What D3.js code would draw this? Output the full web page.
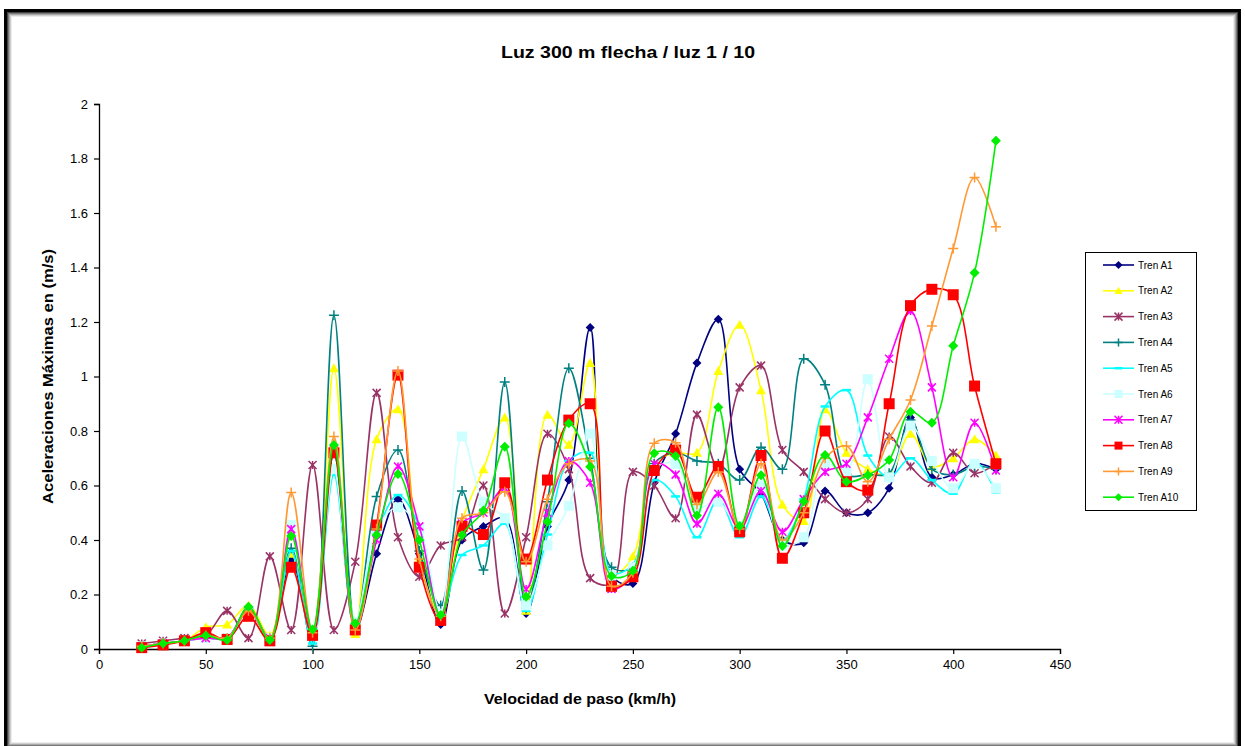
<!DOCTYPE html>
<html>
<head>
<meta charset="utf-8">
<script src="https://cdn.jsdelivr.net/npm/d3@7/dist/d3.min.js"></script>
<style>
  html, body { margin: 0; padding: 0; background: #ffffff; }
  svg { display: block; font-family: "Liberation Sans", Arial, sans-serif; }
</style>
</head>
<body>
<svg id="chart" width="1245" height="746"></svg>
<script>
// Velocidad de paso (km/h)
const speeds = [20,30,40,50,60,70,80,90,100,110,120,130,140,150,160,170,180,190,200,210,
                220,230,240,250,260,270,280,290,300,310,320,330,340,350,360,370,380,390,400,410,420];

// Aceleraciones máximas por tren
const trenA1  = [0.01,0.02,0.03,0.05,0.04,0.14,0.04,0.33,0.05,0.72,0.07,0.35,0.55,0.35,0.09,0.40,0.45,0.48,0.13,0.45,
                 0.62,1.18,0.27,0.24,0.61,0.79,1.05,1.21,0.66,0.57,0.40,0.39,0.58,0.50,0.50,0.59,0.85,0.63,0.64,0.68,0.66];
const trenA2  = [0.01,0.02,0.03,0.08,0.09,0.16,0.05,0.35,0.06,1.03,0.055,0.77,0.88,0.33,0.12,0.47,0.66,0.85,0.14,0.86,
                 0.75,1.05,0.27,0.34,0.68,0.72,0.72,1.02,1.19,0.95,0.53,0.47,0.88,0.72,0.66,0.64,0.79,0.67,0.70,0.77,0.71];
const trenA3  = [0.02,0.03,0.04,0.05,0.14,0.04,0.34,0.07,0.675,0.07,0.32,0.94,0.41,0.265,0.38,0.41,0.60,0.13,0.41,0.79,
                 0.66,0.26,0.24,0.65,0.60,0.48,0.86,0.66,0.96,1.04,0.73,0.65,0.55,0.50,0.55,0.78,0.67,0.61,0.72,0.645,0.68];
const trenA4  = [0.01,0.02,0.03,0.04,0.04,0.15,0.04,0.37,0.01,1.225,0.08,0.56,0.73,0.36,0.16,0.58,0.29,0.98,0.15,0.54,
                 1.03,0.70,0.30,0.30,0.68,0.72,0.69,0.68,0.62,0.74,0.66,1.065,0.97,0.64,0.64,0.645,0.84,0.66,0.64,0.67,0.66];
const trenA5  = [0.01,0.02,0.03,0.04,0.04,0.14,0.04,0.36,0.02,0.64,0.07,0.42,0.565,0.45,0.13,0.345,0.38,0.46,0.14,0.42,
                 0.69,0.72,0.28,0.31,0.62,0.56,0.41,0.55,0.41,0.56,0.40,0.55,0.89,0.95,0.71,0.63,0.70,0.62,0.57,0.69,0.575];
const trenA6  = [0.01,0.02,0.03,0.04,0.04,0.14,0.04,0.455,0.07,0.66,0.10,0.44,0.52,0.44,0.13,0.78,0.54,0.48,0.16,0.38,
                 0.525,0.79,0.27,0.30,0.66,0.68,0.52,0.54,0.45,0.60,0.38,0.41,0.68,0.65,0.99,0.63,0.82,0.69,0.59,0.68,0.59];
const trenA7  = [0.01,0.02,0.03,0.04,0.04,0.14,0.04,0.44,0.06,0.73,0.08,0.40,0.67,0.45,0.12,0.46,0.50,0.59,0.22,0.50,
                 0.69,0.61,0.22,0.28,0.68,0.64,0.46,0.57,0.44,0.58,0.43,0.55,0.65,0.68,0.85,1.065,1.24,0.96,0.63,0.83,0.655];
const trenA8  = [0.005,0.015,0.03,0.06,0.035,0.12,0.03,0.30,0.05,0.72,0.07,0.455,1.005,0.30,0.105,0.45,0.42,0.61,0.33,0.62,
                 0.84,0.90,0.23,0.265,0.655,0.73,0.557,0.67,0.43,0.71,0.333,0.50,0.80,0.614,0.583,0.90,1.26,1.32,1.30,0.965,0.68];
const trenA9  = [0.01,0.02,0.03,0.05,0.04,0.14,0.04,0.574,0.06,0.78,0.07,0.44,1.02,0.33,0.12,0.48,0.50,0.577,0.32,0.55,
                 0.68,0.69,0.23,0.28,0.755,0.757,0.53,0.65,0.44,0.68,0.40,0.50,0.70,0.745,0.614,0.77,0.914,1.185,1.47,1.73,1.55];
const trenA10 = [0.005,0.02,0.03,0.05,0.033,0.155,0.033,0.415,0.072,0.749,0.094,0.418,0.642,0.40,0.125,0.418,0.508,0.742,0.192,0.467,
                 0.828,0.669,0.268,0.287,0.718,0.708,0.49,0.887,0.451,0.638,0.378,0.541,0.712,0.614,0.638,0.694,0.871,0.83,1.113,1.381,1.865];

const seriesNames = ["Tren A1","Tren A2","Tren A3","Tren A4","Tren A5","Tren A6","Tren A7","Tren A8","Tren A9","Tren A10"];
const seriesValues = [trenA1,trenA2,trenA3,trenA4,trenA5,trenA6,trenA7,trenA8,trenA9,trenA10];
const xTicks = [0,50,100,150,200,250,300,350,400,450];
const yTicks = [0,0.2,0.4,0.6,0.8,1,1.2,1.4,1.6,1.8,2];

const colors  = ["#000080","#FFFF00","#993366","#008080","#00FFFF","#CCFFFF","#FF00FF","#FF0000","#FF9933","#00EE00"];
const markers = ["diamond","triangle","asterisk","plus","dash","square","asterisk","square","plus","diamond"];
const markerSize = [4.5,5,4,5,4.5,5,4,5.5,5,5];

const svg = d3.select("#chart");

// Frame around the figure
const frame = svg.append("g");
const shades = ["#000000","#000000","#000000","#444444","#7a7a7a","#a8a8a8","#cfcfcf","#ececec"];
shades.forEach((c, i) => {
  frame.append("rect")
    .attr("x", 4.5 + i).attr("y", 9.5 + i)
    .attr("width", 1236 - 2 * i).attr("height", 740 - 2 * i)
    .attr("fill", "none").attr("stroke", c).attr("stroke-width", 1);
});

const x = d3.scaleLinear().domain([0, 450]).range([99, 1060]);
const y = d3.scaleLinear().domain([0, 2]).range([649, 104]);

// Title
svg.append("text")
  .attr("x", 628).attr("y", 58)
  .attr("text-anchor", "middle")
  .attr("font-size", 17).attr("font-weight", "bold")
  .attr("textLength", 254).attr("lengthAdjust", "spacingAndGlyphs")
  .text("Luz 300 m flecha / luz 1 / 10");

// Axes
const xAxis = svg.append("g")
  .attr("transform", `translate(0,${y(0)})`)
  .call(d3.axisBottom(x).tickValues(xTicks).tickSize(5).tickPadding(6).tickFormat(d3.format("d")));
const yAxis = svg.append("g")
  .attr("transform", `translate(${x(0)},0)`)
  .call(d3.axisLeft(y).tickValues(yTicks).tickSize(5).tickPadding(6).tickFormat(d => String(+d.toFixed(1))));

[xAxis, yAxis].forEach(g => {
  g.select(".domain").attr("stroke", "#000").attr("stroke-width", 1.3);
  g.selectAll(".tick line").attr("stroke", "#000").attr("stroke-width", 1.2);
  g.selectAll(".tick text").attr("font-size", 13).attr("fill", "#000")
    .attr("font-family", "Liberation Sans, Arial, sans-serif");
});

// Axis titles
svg.append("text")
  .attr("x", 580).attr("y", 704)
  .attr("text-anchor", "middle")
  .attr("font-size", 14).attr("font-weight", "bold")
  .attr("textLength", 192).attr("lengthAdjust", "spacingAndGlyphs")
  .text("Velocidad de paso (km/h)");

svg.append("text")
  .attr("transform", `translate(53,${(y(0) + y(2)) / 2 + 0}) rotate(-90)`)
  .attr("text-anchor", "middle")
  .attr("font-size", 14).attr("font-weight", "bold")
  .attr("textLength", 255).attr("lengthAdjust", "spacingAndGlyphs")
  .text("Aceleraciones Máximas en (m/s)");

// Marker shapes
function markerPath(type, r) {
  switch (type) {
    case "diamond":  return `M0,${-r}L${r},0L0,${r}L${-r},0Z`;
    case "triangle": return `M0,${-r}L${r},${r * 0.8}L${-r},${r * 0.8}Z`;
    case "square":   return `M${-r},${-r}H${r}V${r}H${-r}Z`;
    case "asterisk": return `M${-r},${-r}L${r},${r}M${-r},${r}L${r},${-r}M0,${-r}L0,${r}`;
    case "plus":     return `M${-r},0H${r}M0,${-r}V${r}`;
    case "dash":     return `M${-r},0H${r}`;
  }
}
function isFilled(type) { return type === "diamond" || type === "triangle" || type === "square"; }

function drawMarker(g, type, r, color) {
  const p = g.append("path").attr("d", markerPath(type, r));
  if (isFilled(type)) p.attr("fill", color).attr("stroke", "none");
  else p.attr("fill", "none").attr("stroke", color).attr("stroke-width", type === "dash" ? 2.5 : 1.5);
  return p;
}

// Series
const line = d3.line()
  .x((d, i) => x(speeds[i]))
  .y(d => y(d))
  .curve(d3.curveCatmullRom.alpha(0.5));

const plot = svg.append("g");
seriesValues.forEach((vals, s) => {
  const g = plot.append("g");
  g.append("path")
    .datum(vals)
    .attr("d", line)
    .attr("fill", "none")
    .attr("stroke", colors[s])
    .attr("stroke-width", 1.6);
  vals.forEach((v, i) => {
    const m = g.append("g").attr("transform", `translate(${x(speeds[i])},${y(v)})`);
    drawMarker(m, markers[s], markerSize[s], colors[s]);
  });
});

// Legend
const legend = svg.append("g");
legend.append("rect")
  .attr("x", 1085.5).attr("y", 252.5).attr("width", 111).attr("height", 258)
  .attr("fill", "#fff").attr("stroke", "#000").attr("stroke-width", 1);
seriesNames.forEach((name, s) => {
  const cy = 265 + s * 25.8;
  const item = legend.append("g").attr("transform", `translate(0,${cy})`);
  item.append("line").attr("x1", 1103).attr("x2", 1134).attr("y1", 0).attr("y2", 0)
    .attr("stroke", colors[s]).attr("stroke-width", 1.6);
  const m = item.append("g").attr("transform", "translate(1118.5,0)");
  drawMarker(m, markers[s], Math.min(markerSize[s], 4), colors[s]);
  item.append("text").attr("x", 1138).attr("y", 0).attr("dy", "0.35em")
    .attr("font-size", 10).attr("fill", "#000").text(name);
});
</script>
</body>
</html>
